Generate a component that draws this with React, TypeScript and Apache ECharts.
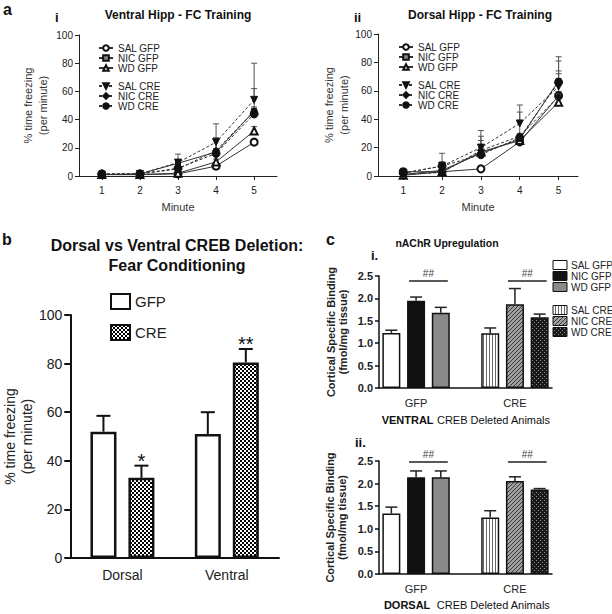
import React, { useEffect, useRef } from 'react';
import * as echarts from 'echarts';

// ---------- Panel a: line charts ----------
const minutes = [1, 2, 3, 4, 5];
const lineGroups = ['SAL GFP', 'NIC GFP', 'WD GFP', 'SAL CRE', 'NIC CRE', 'WD CRE'];

const ventralMeans = [
  [1, 1, 1.5, 7, 24],
  [1, 1.5, 9, 17, 46],
  [1, 1, 2, 10, 32],
  [1, 1.5, 9.5, 24, 54],
  [1.5, 1.5, 5, 18, 46],
  [1.5, 1.5, 5.5, 16, 44],
];
const ventralErr = [
  [0.5, 0.5, 0.5, 1.5, 2],
  [0.5, 0.5, 1.5, 2.5, 3],
  [0.5, 0.5, 1, 2, 3],
  [1, 1, 6, 3, 8],
  [0.5, 0.5, 2, 9, 2],
  [0.5, 0.5, 1.5, 21, 36],
];
const dorsalMeans = [
  [3, 3, 5, 24, 56.5],
  [1, 4, 16, 26, 67],
  [0.5, 3, 17, 25, 52],
  [2, 7, 20, 37, 63],
  [1, 2.5, 18, 28, 56],
  [2, 7, 15, 27, 66],
];
const dorsalErr = [
  [2, 1, 2, 2, 3],
  [1, 2, 9, 3, 17],
  [1, 1, 3, 2, 4],
  [3, 9, 12, 13, 11],
  [1, 2, 10, 17, 16],
  [2, 3, 4, 3, 15],
];

// ---------- Panel b: bars ----------
const bCategories = ['Dorsal', 'Ventral'];
const bSeriesNames = ['GFP', 'CRE'];
const bGfp = [52, 51];
const bGfpErr = [6.5, 9];
const bCre = [33, 80.5];
const bCreErr = [5, 5.5];
const bCreSig = ['*', '**'];

// ---------- Panel c: bars ----------
const cGroups = ['GFP', 'CRE'];
const cConditions = ['SAL', 'NIC', 'WD'];
const ventralBinding = [1.23, 1.95, 1.68, 1.22, 1.87, 1.58];
const ventralBindingErr = [0.06, 0.08, 0.12, 0.12, 0.35, 0.07];
const dorsalBinding = [1.34, 2.14, 2.14, 1.25, 2.06, 1.87];
const dorsalBindingErr = [0.14, 0.14, 0.14, 0.15, 0.09, 0.02];
const bracketSlots = [[1, 2], [5, 6]];
const ventralBracketY = 2.39;
const dorsalBracketY = 2.48;
const bracketMark = '##';

const FONT = 'Liberation Sans, Arial, Helvetica, sans-serif';

function makePattern(size: number, draw: (ctx: CanvasRenderingContext2D) => void) {
  const c = document.createElement('canvas');
  c.width = size;
  c.height = size;
  const ctx = c.getContext('2d')!;
  draw(ctx);
  return { image: c, repeat: 'repeat', imageWidth: size, imageHeight: size } as any;
}

function errorShape(api: any, cap: number, color: string, lw: number, dx = 0) {
  const x = api.value(0);
  const y = api.value(1);
  const e = api.value(2);
  const p0 = api.coord([x, y]);
  const p1 = api.coord([x, y + e]);
  const cx = p0[0] + dx;
  return {
    type: 'group',
    children: [
      { type: 'line', shape: { x1: cx, y1: p0[1], x2: cx, y2: p1[1] }, style: { stroke: color, lineWidth: lw } },
      { type: 'line', shape: { x1: cx - cap, y1: p1[1], x2: cx + cap, y2: p1[1] }, style: { stroke: color, lineWidth: lw } },
    ],
  };
}

export default function App() {
  const ref = useRef<HTMLDivElement>(null);
  useEffect(() => {
    const el = ref.current!;
    const chart = echarts.init(el, undefined, { renderer: 'svg' });

    const checker = makePattern(4, (ctx) => {
      ctx.fillStyle = '#ffffff'; ctx.fillRect(0, 0, 4, 4);
      ctx.fillStyle = '#000000'; ctx.fillRect(0, 0, 2, 2); ctx.fillRect(2, 2, 2, 2);
    });
    const stripes = makePattern(3, (ctx) => {
      ctx.fillStyle = '#ffffff'; ctx.fillRect(0, 0, 3, 3);
      ctx.fillStyle = '#6a6a6a'; ctx.fillRect(0, 0, 1, 3);
    });
    const hatch = makePattern(4, (ctx) => {
      ctx.fillStyle = '#a0a0a0'; ctx.fillRect(0, 0, 4, 4);
      ctx.fillStyle = '#3a3a3a';
      for (let i = 0; i < 4; i++) ctx.fillRect(i, 3 - i, 1, 1);
    });
    const dots = makePattern(4, (ctx) => {
      ctx.fillStyle = '#1a1a1a'; ctx.fillRect(0, 0, 4, 4);
      ctx.fillStyle = '#8a8a8a'; ctx.fillRect(0, 0, 1, 1); ctx.fillRect(2, 2, 1, 1);
    });
    const cFills = ['#ffffff', '#111111', '#8a8a8a', stripes, hatch, dots];
    const cLegendNames = cGroups.flatMap((g) => cConditions.map((c) => `${c} ${g}`));
    const slotLabels = [...cConditions.map((c) => `${c} ${cGroups[0]}`), '', ...cConditions.map((c) => `${c} ${cGroups[1]}`)];
    const slotIndexOf = (i: number) => (i < 3 ? i : i + 1);

    const symbols = ['emptyCircle', 'rect', 'emptyTriangle', 'triangle', 'diamond', 'circle'];
    const symbolRot = [0, 0, 0, 180, 0, 0];
    const symbolSizes = [7, 5, 7, 7, 7, 8];

    const lineSeries = (means: number[][], gi: number) =>
      lineGroups.map((name, k) => ({
        type: 'line',
        name,
        xAxisIndex: gi,
        yAxisIndex: gi,
        data: minutes.map((m, j) => [m, means[k][j]]),
        symbol: symbols[k],
        symbolSize: symbolSizes[k],
        symbolRotate: symbolRot[k],
        lineStyle: { color: '#333', width: 1, type: k < 3 ? 'solid' : [3, 2] },
        itemStyle: { color: k === 1 ? '#888' : '#111', borderColor: '#111', borderWidth: 1 },
        z: 3 + k,
      }));

    const lineErrSeries = (means: number[][], errs: number[][], gi: number) => {
      const data: number[][] = [];
      means.forEach((row, k) => row.forEach((v, j) => data.push([minutes[j], v, errs[k][j]])));
      return {
        type: 'custom', name: 'err' + gi, xAxisIndex: gi, yAxisIndex: gi, data, z: 2, silent: true,
        encode: { x: 0, y: 1 },
        renderItem: (_p: any, api: any) => errorShape(api, 3, '#555', 1),
      };
    };

    const xLineAxis = (gi: number, min: number, max: number) => ({
      type: 'value', gridIndex: gi, min, max,
      axisLine: { show: true, onZero: false, lineStyle: { color: '#222', width: 1 } },
      axisTick: { show: true, customValues: minutes, length: 4, lineStyle: { color: '#222' } },
      axisLabel: { customValues: minutes, fontSize: 10, color: '#222', margin: 9 },
      splitLine: { show: false },
      name: 'Minute', nameLocation: 'middle', nameGap: 25,
      nameTextStyle: { fontSize: 11, color: '#333' },
    });
    const yLineAxis = (gi: number, gap: number) => ({
      type: 'value', gridIndex: gi, min: 0, max: 100, interval: 20,
      axisLine: { show: true, onZero: false, lineStyle: { color: '#222', width: 1 } },
      axisTick: { show: true, length: 4, lineStyle: { color: '#222' } },
      axisLabel: { fontSize: 10, color: '#222', margin: 6 },
      splitLine: { show: false },
      name: '% time freezing\n(per minute)', nameLocation: 'middle', nameRotate: 90, nameGap: gap,
      nameTextStyle: { fontSize: 11, lineHeight: 15, color: '#333' },
    });

    const cXAxis = (gi: number) => ({
      type: 'category', gridIndex: gi, data: slotLabels,
      axisLine: { lineStyle: { color: '#111', width: 1.5 } },
      axisTick: { alignWithLabel: true, interval: (i: number) => i === 3, length: 4, lineStyle: { color: '#111', width: 1.5 } },
      axisLabel: {
        interval: (i: number) => i === 1 || i === 5,
        formatter: (_v: string, i: number) => (i < 3 ? cGroups[0] : cGroups[1]),
        fontSize: 11, color: '#222', margin: 9,
      },
    });
    const cYAxis = (gi: number, gap: number) => ({
      type: 'value', gridIndex: gi, min: 0, max: 2.5, interval: 0.5,
      axisLine: { show: true, onZero: false, lineStyle: { color: '#111', width: 1.5 } },
      axisTick: { show: true, length: 4, lineStyle: { color: '#111', width: 1.5 } },
      axisLabel: { formatter: (v: number) => v.toFixed(1), fontSize: 11, fontWeight: 'bold', color: '#222', margin: 6 },
      splitLine: { show: false },
      name: 'Cortical Specific Binding\n(fmol/mg tissue)', nameLocation: 'middle', nameRotate: 90, nameGap: gap,
      nameTextStyle: { fontSize: 11, fontWeight: 'bold', lineHeight: 12, color: '#222' },
    });

    const cBarSeries = (vals: number[], gi: number) => ({
      type: 'bar', name: 'cbar' + gi, xAxisIndex: gi, yAxisIndex: gi, barWidth: 18,
      data: slotLabels.map((_, s) => {
        if (s === 3) return '-';
        const i = s < 3 ? s : s - 1;
        return { value: vals[i], itemStyle: { color: cFills[i] } };
      }),
      itemStyle: { borderColor: '#111', borderWidth: 1.5 },
      z: 3,
    });
    const cErrSeries = (vals: number[], errs: number[], gi: number) => ({
      type: 'custom', name: 'cerr' + gi, xAxisIndex: gi, yAxisIndex: gi, silent: true, z: 2,
      data: vals.map((v, i) => [slotIndexOf(i), v, errs[i]]),
      encode: { x: 0, y: 1 },
      renderItem: (_p: any, api: any) => errorShape(api, 6, '#222', 1.5),
    });
    const bracketSeries = (yv: number, gi: number) => ({
      type: 'custom', name: 'brk' + gi, xAxisIndex: gi, yAxisIndex: gi, silent: true, z: 4,
      data: bracketSlots.map(([a, b]) => [a, b, yv]),
      encode: { x: 0, y: 2 },
      renderItem: (_p: any, api: any) => {
        const pa = api.coord([api.value(0), api.value(2)]);
        const pb = api.coord([api.value(1), api.value(2)]);
        const x1 = pa[0] - 7;
        const x2 = pb[0] + 7;
        return {
          type: 'group',
          children: [
            { type: 'line', shape: { x1, y1: pa[1], x2, y2: pa[1] }, style: { stroke: '#222', lineWidth: 1.5 } },
            {
              type: 'text', x: (x1 + x2) / 2, y: pa[1] - 2,
              style: { text: bracketMark, align: 'center', verticalAlign: 'bottom', fontSize: 10, fontFamily: FONT, fill: '#444' },
            },
          ],
        };
      },
    });

    const bBarOffset = 19;
    const bErrData = [
      ...bCategories.map((_, i) => [i, bGfp[i], bGfpErr[i], 0]),
      ...bCategories.map((_, i) => [i, bCre[i], bCreErr[i], 1]),
    ];
    const bSig = [...bCategories.map(() => ''), ...bCreSig];

    const legendA = (names: string[], left: number, top: number) => ({
      data: names, left, top, orient: 'vertical', itemWidth: 14, itemHeight: 7, itemGap: 0, padding: 0,
      textStyle: { fontSize: 10, lineHeight: 10, color: '#222', fontFamily: FONT },
      selectedMode: false,
    });

    const cLegendRows = [265, 276, 287, 310, 321, 332];
    const graphicEls: any[] = [];
    const txt = (x: number, y: number, text: string, font: string, align = 'left', extra: any = {}) =>
      graphicEls.push({ type: 'text', x, y, style: { text, font, fill: '#111', align, verticalAlign: 'middle', ...extra } });

    txt(3, 9, 'a', `bold 16px ${FONT}`);
    txt(55, 17, 'i', `bold 13px ${FONT}`);
    txt(178, 15, 'Ventral Hipp - FC Training', `bold 12px ${FONT}`, 'center');
    txt(354, 17, 'ii', `bold 13px ${FONT}`);
    txt(480, 15, 'Dorsal Hipp - FC Training', `bold 12px ${FONT}`, 'center');
    txt(2, 239, 'b', `bold 16px ${FONT}`);
    txt(177, 255, 'Dorsal vs Ventral CREB Deletion:\nFear Conditioning', `bold 16px ${FONT}`, 'center', { lineHeight: 20 });
    txt(326, 239, 'c', `bold 16px ${FONT}`);
    txt(447, 243, 'nAChR Upregulation', `bold 10.5px ${FONT}`, 'center');
    txt(371, 255, 'i.', `bold 13px ${FONT}`);
    txt(355, 442, 'ii.', `bold 13px ${FONT}`);
    graphicEls.push({
      type: 'text', x: 466, y: 420,
      style: {
        text: '{b|VENTRAL} CREB Deleted Animals', fontSize: 11, fontFamily: FONT, fill: '#111', align: 'center', verticalAlign: 'middle',
        rich: { b: { fontWeight: 'bold', fontSize: 11, fontFamily: FONT, fill: '#111' } },
      },
    });
    graphicEls.push({
      type: 'text', x: 467, y: 605,
      style: {
        text: '{b|DORSAL}  CREB Deleted Animals', fontSize: 11, fontFamily: FONT, fill: '#111', align: 'center', verticalAlign: 'middle',
        rich: { b: { fontWeight: 'bold', fontSize: 11, fontFamily: FONT, fill: '#111' } },
      },
    });
    cLegendNames.forEach((name, i) => {
      graphicEls.push({
        type: 'rect', shape: { x: 553, y: cLegendRows[i] - 4.5, width: 14, height: 9 },
        style: { fill: cFills[i], stroke: '#111', lineWidth: 1 },
      });
      graphicEls.push({
        type: 'text', x: 571, y: cLegendRows[i],
        style: { text: name, font: `10px ${FONT}`, fill: '#222', align: 'left', verticalAlign: 'middle' },
      });
    });

    const option: any = {
      animation: false,
      backgroundColor: '#ffffff',
      textStyle: { fontFamily: FONT },
      grid: [
        { left: 79, top: 35, width: 198, height: 141 },
        { left: 378, top: 34, width: 200, height: 142 },
        { left: 69, top: 315, width: 210, height: 243 },
        { left: 379, top: 276, width: 173, height: 112 },
        { left: 379, top: 461, width: 173, height: 113 },
      ],
      xAxis: [
        xLineAxis(0, 0.4, 5.6),
        xLineAxis(1, 0.35, 5.5),
        {
          type: 'category', gridIndex: 2, data: bCategories,
          axisLine: { lineStyle: { color: '#111', width: 2 } },
          axisTick: { alignWithLabel: true, length: 5, lineStyle: { color: '#111', width: 2 } },
          axisLabel: { fontSize: 14, color: '#222', margin: 10 },
        },
        cXAxis(3),
        cXAxis(4),
      ],
      yAxis: [
        yLineAxis(0, 29),
        yLineAxis(1, 27),
        {
          type: 'value', gridIndex: 2, min: 0, max: 100, interval: 20,
          axisLine: { show: true, onZero: false, lineStyle: { color: '#111', width: 2 } },
          axisTick: { show: true, length: 6, lineStyle: { color: '#111', width: 2 } },
          axisLabel: { fontSize: 14, color: '#222', margin: 8 },
          splitLine: { show: false },
          name: '% time freezing\n(per minute)', nameLocation: 'middle', nameRotate: 90, nameGap: 35,
          nameTextStyle: { fontSize: 14, lineHeight: 17, color: '#222' },
        },
        cYAxis(3, 30),
        cYAxis(4, 31),
      ],
      legend: [
        legendA(lineGroups.slice(0, 3), 98, 43),
        legendA(lineGroups.slice(3), 98, 81),
        legendA(lineGroups.slice(0, 3), 398, 42),
        legendA(lineGroups.slice(3), 398, 80),
        {
          data: bSeriesNames, left: 110, top: 293, orient: 'vertical', itemWidth: 19, itemHeight: 15, itemGap: 14, padding: 0,
          icon: 'rect', selectedMode: false,
          itemStyle: { borderColor: '#111', borderWidth: 2 },
          textStyle: { fontSize: 15, lineHeight: 15, color: '#222', fontFamily: FONT },
        },
      ],
      series: [
        lineErrSeries(ventralMeans, ventralErr, 0),
        ...lineSeries(ventralMeans, 0),
        lineErrSeries(dorsalMeans, dorsalErr, 1),
        ...lineSeries(dorsalMeans, 1),
        {
          type: 'bar', name: bSeriesNames[0], xAxisIndex: 2, yAxisIndex: 2, data: bGfp, barWidth: 26, barGap: '46%',
          itemStyle: { color: '#ffffff', borderColor: '#111', borderWidth: 2.5 }, z: 3,
        },
        {
          type: 'bar', name: bSeriesNames[1], xAxisIndex: 2, yAxisIndex: 2, data: bCre, barWidth: 26, barGap: '46%',
          itemStyle: { color: checker, borderColor: '#111', borderWidth: 2.5 }, z: 3,
        },
        {
          type: 'custom', name: 'berr', xAxisIndex: 2, yAxisIndex: 2, silent: true, z: 2,
          data: bErrData, encode: { x: 0, y: 1 },
          renderItem: (p: any, api: any) => {
            const dx = (api.value(3) - 0.5) * 2 * bBarOffset;
            const g: any = errorShape(api, 7, '#111', 2, dx);
            const sig = bSig[p.dataIndex];
            if (sig) {
              const top = api.coord([api.value(0), api.value(1) + api.value(2)]);
              g.children.push({
                type: 'text', x: top[0] + dx, y: top[1] - 5,
                style: { text: sig, align: 'center', verticalAlign: 'middle', fontSize: 20, fontFamily: FONT, fill: '#111' },
              });
            }
            return g;
          },
        },
        cErrSeries(ventralBinding, ventralBindingErr, 3),
        cBarSeries(ventralBinding, 3),
        bracketSeries(ventralBracketY, 3),
        cErrSeries(dorsalBinding, dorsalBindingErr, 4),
        cBarSeries(dorsalBinding, 4),
        bracketSeries(dorsalBracketY, 4),
      ],
      graphic: { elements: graphicEls },
    };

    chart.setOption(option);
    return () => chart.dispose();
  }, []);

  return (
    <div
      ref={ref}
      style={{ position: 'absolute', left: 0, top: 0, width: 612, height: 614, background: '#fff' }}
    />
  );
}
